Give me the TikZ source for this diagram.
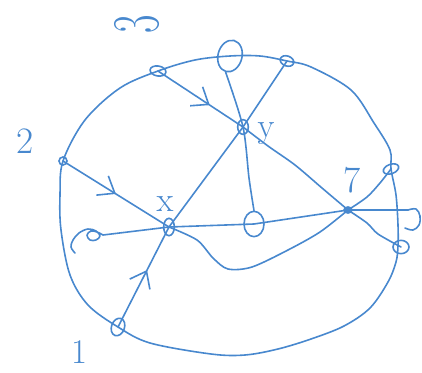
\documentclass[tikz,border=0pt]{standalone}
\usetikzlibrary{shapes.geometric,arrows.meta,decorations.markings}
\definecolor{sk}{RGB}{72,136,206}
\begin{document}
\begin{tikzpicture}[x=0.75pt,y=-0.75pt,
  ln/.style={draw=sk,line width=1.2pt,line cap=round,line join=round},
  knot/.style={draw=sk,line width=1.2pt,ellipse,inner sep=0pt},
  lbl/.style={text=sk,inner sep=0pt},
  midarr/.style={postaction={decorate},decoration={markings,mark=at position #1 with {\arrow[sk,line width=1.2pt]{Straight Barb[length=11pt,width=17pt]}}}}
]
\useasboundingbox (0,0) rectangle (422,372);

% knots
\node[knot,minimum width=9.75pt,minimum height=13.5pt,rotate=-20] (n1) at (118,327) {};
\node[knot,minimum width=6pt,minimum height=6pt] (n2) at (63,161) {};
\node[knot,minimum width=12pt,minimum height=7.5pt,rotate=-10] (n3) at (158,71) {};
\node[knot,minimum width=18pt,minimum height=24pt,rotate=-15] (ntop) at (230,56) {};
\node[knot,minimum width=10.5pt,minimum height=7.5pt,rotate=-20] (ntr) at (287,61) {};
\node[knot,minimum width=8pt,minimum height=11pt] (ny) at (243,127) {};
\node[knot,minimum width=8pt,minimum height=13pt] (nx) at (169,227) {};
\node[knot,minimum width=15pt,minimum height=19pt] (n6) at (254,224) {};
\node[knot,fill=sk,minimum width=6pt,minimum height=4.5pt] (n7) at (348,210) {};
\node[knot,minimum width=12pt,minimum height=7pt,rotate=20] (nr1) at (391,169) {};
\node[knot,minimum width=12pt,minimum height=10pt] (nr2) at (401,247) {};
\coordinate (sp) at (103,235);
\coordinate (rl) at (408,210);

% outer loop
\draw[ln] plot[smooth cycle,tension=0.55] coordinates {(n1.center) (88,305) (70,275) (61,230) (60,195) (n2.center) (85,120) (120,88) (n3.center) (195,60) (ntop.center) (260,56) (ntr.center) (311,67) (351,90) (374,123) (390,150) (nr1.center) (396,195) (398,225) (398,246) (396,262) (388,282) (370,308) (344,326) (311,339) (278,349) (245,355) (211,354) (150,343)};

% inner connectors
\draw[ln] plot[smooth] coordinates {(ntop.south) (ny.center) (249,178) (n6.north)};
\draw[ln] (ny.center) -- (ntr.center);
\draw[ln,midarr=0.61] (n3.center) -- (ny.center);
\draw[ln,midarr=0.57] (n1.center) -- (nx.center);
\draw[ln] (nx.center) -- (ny.center);
\draw[ln,midarr=0.5] (n2.center) -- (nx.center);
\draw[ln] plot[smooth] coordinates {(ny.center) (268,146) (295,165) (322,188) (n7.center)};
\draw[ln] (sp) -- (nx.center) -- (n6.center) -- (n7.center) -- (rl);
\draw[ln] plot[smooth,tension=0.6] coordinates {(rl) (416,209) (420,216) (419,225) (413,230) (405,228)};
\draw[ln] plot[smooth,tension=0.6] coordinates {(75,253) (71,247) (73,240) (79,233) (88,229) (96,231) (100,236) (96,240) (90,240) (87,235) (91,231) (97,232) (sp)};
\draw[ln] plot[smooth] coordinates {(nx.center) (197,240) (213,258) (228,269) (252,267) (288,250) (320,232) (n7.center)};
\draw[ln] plot[smooth] coordinates {(n7.center) (367,197) (380,183) (nr1.center)};
\draw[ln] plot[smooth] coordinates {(n7.center) (367,223) (378,234) (nr2.center)};

% labels
\node[lbl,rotate=90,font=\fontsize{50}{50}\selectfont] (l3) at (137,24) {\scalebox{0.6}[1]{3}};
\node[lbl,font=\fontsize{28}{28}\selectfont] (l2) at (25,141) {2};
\node[lbl,font=\fontsize{26}{26}\selectfont] (l1) at (79,352) {1};
\node[lbl,font=\fontsize{26}{26}\selectfont] (lx) at (165,204) {x};
\node[lbl,font=\fontsize{26}{26}\selectfont] (ly) at (266,134) {y};
\node[lbl,font=\fontsize{28}{28}\selectfont] (l7) at (352,180) {7};
\end{tikzpicture}
\end{document}
